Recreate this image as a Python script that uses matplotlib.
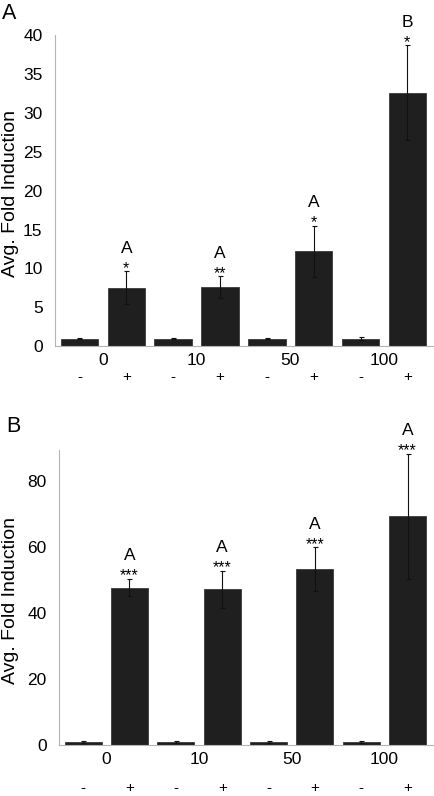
import numpy as np
import matplotlib
matplotlib.use('Agg')
import matplotlib.pyplot as plt

plt.rcParams['font.family'] = ['Liberation Sans', 'DejaVu Sans']

# Data
groups = ['0', '10', '50', '100']
signs = ['-', '+'] * 4

a_vals = [0.95, 7.55, 0.95, 7.6, 0.95, 12.2, 0.95, 32.6]
a_err = [0.05, 2.1, 0.05, 1.4, 0.05, 3.3, 0.2, 6.1]
a_stars = ['', '*', '', '**', '', '*', '', '*']
a_letters = ['', 'A', '', 'A', '', 'A', '', 'B']

b_vals = [0.9, 47.8, 0.9, 47.2, 0.9, 53.3, 0.9, 69.4]
b_err = [0.2, 2.7, 0.2, 5.7, 0.2, 6.7, 0.4, 19.0]
b_stars = ['', '***', '', '***', '', '***', '', '***']
b_letters = ['', 'A', '', 'A', '', 'A', '', 'A']

bar_color = '#1f1f1f'
axis_color = '#b4b4b4'

fig = plt.figure(figsize=(4.34, 7.96), dpi=100)


def draw_panel(ax, vals, err, stars, letters, ylim, yticks, grp_y, sign_y):
    x = np.arange(len(vals))
    ax.bar(x, vals, width=0.8, color=bar_color, edgecolor='#3a3a3a', linewidth=0.6)
    ax.errorbar(x, vals, yerr=err, fmt='none', ecolor='#111111',
                elinewidth=0.8, capsize=1.8, capthick=0.8)
    for xi, v, e, s, l in zip(x, vals, err, stars, letters):
        if s:
            ax.annotate(s, (xi, v + e), xytext=(0, -1.3), textcoords='offset points',
                        ha='center', va='baseline', fontsize=11.5)
        if l:
            ax.annotate(l, (xi, v + e), xytext=(0, 13.3), textcoords='offset points',
                        ha='center', va='baseline', fontsize=12.5)
    ax.set_xlim(-0.52, 7.55)
    ax.set_ylim(*ylim)
    ax.set_yticks(yticks)
    ax.set_xticks([])
    ax.tick_params(axis='y', length=0, labelsize=12.5, pad=9)
    for side in ['top', 'right']:
        ax.spines[side].set_visible(False)
    for side in ['left', 'bottom']:
        ax.spines[side].set_color(axis_color)
        ax.spines[side].set_linewidth(0.8)
    ax.set_ylabel('Avg. Fold Induction', fontsize=14)
    trans = ax.get_xaxis_transform()
    for i, g in enumerate(groups):
        ax.text(2 * i + 0.5, grp_y, g, transform=trans, ha='center', va='center', fontsize=12.5)
    for xi, s in zip(x, signs):
        ax.text(xi, sign_y, s, transform=trans, ha='center', va='center', fontsize=11)


ax1 = fig.add_axes([0.127, 0.565, 0.871, 0.391])
draw_panel(ax1, a_vals, a_err, a_stars, a_letters, (0, 40), range(0, 41, 5), -0.045, -0.10)
ax1.yaxis.set_label_coords(0.043, 0.565 + 0.391 * 0.49, transform=fig.transFigure)

ax2 = fig.add_axes([0.136, 0.064, 0.862, 0.371])
draw_panel(ax2, b_vals, b_err, b_stars, b_letters, (0, 89.6), range(0, 81, 20), -0.05, -0.145)
ax2.yaxis.set_label_coords(0.043, 0.064 + 0.371 * 0.49, transform=fig.transFigure)

fig.text(0.004, 0.996, 'A', fontsize=15.5, ha='left', va='top')
fig.text(0.014, 0.478, 'B', fontsize=15.5, ha='left', va='top')

fig.savefig('out.png', dpi=100)
